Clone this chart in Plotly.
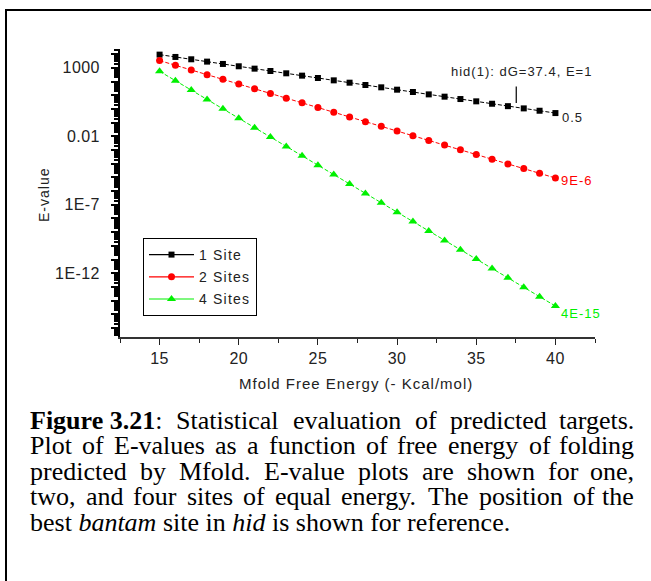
import math
import plotly.graph_objects as go

# ---- data -------------------------------------------------------------
free_energy = list(range(15, 41))  # Mfold free energy (-kcal/mol)

e_one_site = [9300, 6300, 4250, 2870, 1940, 1310, 880, 595, 402, 271,
              183, 123, 83, 56, 38, 25.6, 17.3, 11.6, 7.9, 5.3,
              3.6, 2.4, 1.6, 1.1, 0.74, 0.5]
e_two_sites = [3420, 1550, 705, 320, 145, 66, 30, 13.5, 6.1, 2.8,
               1.26, 0.57, 0.26, 0.118, 0.054, 0.0243, 0.011, 0.0050,
               0.0023, 0.00103, 4.7e-4, 2.1e-4, 9.6e-5, 4.4e-5, 2.0e-5, 9e-6]
e_four_sites = [564, 116, 24, 4.9, 1.02, 0.21, 0.043, 0.0089, 0.0018,
                3.8e-4, 7.8e-5, 1.6e-5, 3.3e-6, 6.8e-7, 1.4e-7, 2.9e-8,
                6.0e-9, 1.2e-9, 2.5e-10, 5.2e-11, 1.1e-11, 2.2e-12,
                4.6e-13, 9.4e-14, 1.9e-14, 4e-15]

series_names = ["1 Site", "2 Sites", "4 Sites"]
end_labels = ["0.5", "9E-6", "4E-15"]

hid_dg = 37.4
hid_e = 1
hid_label = "hid(1): dG=37.4, E=1"

y_tick_labels = {3: "1000", -2: "0.01", -7: "1E-7", -12: "1E-12"}
x_tick_values = [15, 20, 25, 30, 35, 40]

caption_lines = [
    "<b>Figure</b> <b>3.21</b>: Statistical evaluation of predicted targets.",
    "Plot of E-values as a function of free energy of folding",
    "predicted by Mfold. E-value plots are shown for one,",
    "two, and four sites of equal energy. The position of the",
    "best <i>bantam</i> site in <i>hid</i> is shown for reference.",
]

# ---- layout geometry (pixels) ----------------------------------------
W, H = 651, 581
L, R, T, B = 120, 56, 49, 244
PW, PH = W - L - R, H - T - B


def px(x):
    return (x - L) / PW


def py(y):
    return (H - B - y) / PH


SANS = "Liberation Sans"
SERIF = "Liberation Serif"
INK = "#222222"


def spaced(text, amount=1.0):
    return f'<span style="letter-spacing:{amount}px">{text}</span>'


# Times glyph advance widths (1/1000 em) for justified caption layout
_LOWER = [444, 500, 444, 500, 444, 333, 500, 500, 278, 278, 500, 278, 778,
          500, 500, 500, 500, 333, 389, 278, 500, 500, 722, 500, 500, 444]
_UPPER = [722, 667, 667, 722, 611, 556, 722, 722, 333, 389, 722, 611, 889,
          722, 722, 556, 722, 667, 556, 611, 722, 722, 944, 722, 722, 611]
ROMAN = dict(zip("abcdefghijklmnopqrstuvwxyz", _LOWER))
ROMAN.update(zip("ABCDEFGHIJKLMNOPQRSTUVWXYZ", _UPPER))
ROMAN.update({" ": 250, ".": 250, ",": 250, ":": 278, "-": 333})
ROMAN.update({d: 500 for d in "0123456789"})
BOLD = dict(ROMAN)
BOLD.update({"F": 611, "u": 556, "r": 444, "b": 556, "d": 556, "h": 556})


def word_width(token, size):
    total, bold, i = 0, False, 0
    while i < len(token):
        if token.startswith("<b>", i):
            bold, i = True, i + 3
            continue
        if token.startswith("</b>", i):
            bold, i = False, i + 4
            continue
        ch = token[i]
        total += (BOLD if bold else ROMAN).get(ch, 500)
        i += 1
    return total * size / 1000.0


fig = go.Figure()

colors = ["#000000", "#ff0000", "#00f000"]
symbols = ["square", "circle", "triangle-up"]
sizes = [6, 7, 8]
all_series = [e_one_site, e_two_sites, e_four_sites]

for name, vals, col, sym, sz in zip(series_names, all_series, colors, symbols, sizes):
    fig.add_trace(go.Scatter(
        x=free_energy, y=vals, mode="lines+markers", name=name,
        showlegend=False,
        line=dict(color=col, width=1, dash="4px,2px"),
        marker=dict(symbol=sym, size=sz, color=col),
    ))

# legend keys are drawn with solid connecting lines
for name, col, sym, sz in zip(series_names, colors, symbols, sizes):
    fig.add_trace(go.Scatter(
        x=[None], y=[None], mode="lines+markers",
        name=spaced(name, 1.2), legendgroup=name,
        line=dict(color=col, width=1.2),
        marker=dict(symbol=sym, size=sz, color=col),
    ))

annotations = []
shapes = []

# end-of-series value labels
shifts = [(6, -4), (5, -2), (5, -7)]
for vals, text, col, (dx, dy) in zip(all_series, end_labels, colors, shifts):
    annotations.append(dict(
        x=free_energy[-1], y=math.log10(vals[-1]), xref="x", yref="y",
        text=spaced(text, 1.0), showarrow=False, xanchor="left",
        yanchor="middle", xshift=dx, yshift=dy, borderpad=0,
        font=dict(family=SANS, size=13, color=col if col != "#000000" else INK),
    ))

# hid reference marker: label plus a short tick above the 1-site curve
annotations.append(dict(
    x=hid_dg, y=math.log10(hid_e), xref="x", yref="y",
    text=spaced(hid_label, 1.0), showarrow=False, xanchor="center",
    yanchor="middle", xshift=7, yshift=37.5, borderpad=0,
    font=dict(family=SANS, size=13, color=INK),
))
annotations.append(dict(
    x=hid_dg, y=math.log10(hid_e), xref="x", yref="y", xshift=2,
    text="", showarrow=True, arrowhead=0, arrowwidth=1.2, arrowcolor="#000000",
    ax=0, ay=-24, standoff=6,
))

# axis titles
annotations.append(dict(
    x=px(44), y=py(195), xref="paper", yref="paper", text=spaced("E-value", 1.0),
    textangle=-90, showarrow=False, xanchor="center", yanchor="middle",
    font=dict(family=SANS, size=14, color=INK),
))
annotations.append(dict(
    x=px(356), y=py(383), xref="paper", yref="paper",
    text=spaced("Mfold Free Energy (- Kcal/mol)", 1.0),
    showarrow=False, xanchor="center", yanchor="middle",
    font=dict(family=SANS, size=15, color=INK),
))

# justified caption
CAP_SIZE = 26
CAP_LEFT, CAP_RIGHT = 29, 635
cap_centers = [420, 445.5, 471, 496.5, 522]
for idx, (line, cy) in enumerate(zip(caption_lines, cap_centers)):
    last = idx == len(caption_lines) - 1
    if last:
        annotations.append(dict(
            x=px(CAP_LEFT), y=py(cy), xref="paper", yref="paper", text=line,
            showarrow=False, xanchor="left", yanchor="middle", borderpad=0,
            font=dict(family=SERIF, size=CAP_SIZE, color="#000000"),
        ))
        continue
    words = line.replace("</b> <b>", "</b>\x00<b>").split(" ")
    words = [w.replace("\x00", " ") for w in words]
    widths = [word_width(w, CAP_SIZE) for w in words]
    gap = (CAP_RIGHT - CAP_LEFT - sum(widths)) / (len(words) - 1)
    xpos = CAP_LEFT
    for j, (w, wd) in enumerate(zip(words, widths)):
        is_end = j == len(words) - 1
        annotations.append(dict(
            x=px(CAP_RIGHT if is_end else xpos), y=py(cy), xref="paper", yref="paper",
            text=w, showarrow=False, xanchor="right" if is_end else "left",
            yanchor="middle", borderpad=0,
            font=dict(family=SERIF, size=CAP_SIZE, color="#000000"),
        ))
        xpos += wd + gap

# page frame
shapes.append(dict(
    type="rect", xref="paper", yref="paper",
    x0=px(6), x1=px(670), y0=py(600), y1=py(10),
    line=dict(color="#000000", width=2), fillcolor="rgba(0,0,0,0)", layer="below",
))

# log-axis ticks: a major tick per decade, minor ticks at 2..9
decades = list(range(-16, 5))
y_tickvals = [10.0 ** d for d in decades]
y_ticktext = [spaced(y_tick_labels[d], 0.4) if d in y_tick_labels else "" for d in decades]
y_minor = [m * 10.0 ** d for d in range(-17, 5) for m in range(2, 10)]

fig.update_layout(
    width=W, height=H,
    margin=dict(l=L, r=R, t=T, b=B, pad=0),
    paper_bgcolor="white", plot_bgcolor="white",
    showlegend=True,
    legend=dict(
        x=px(143), y=py(238), xanchor="left", yanchor="top",
        bordercolor="#000000", borderwidth=1, bgcolor="white",
        font=dict(family=SANS, size=14, color=INK),
        itemwidth=45, tracegroupgap=1,
    ),
    annotations=annotations,
    shapes=shapes,
    xaxis=dict(
        range=[12.5, 42.5], tickvals=x_tick_values,
        ticktext=[spaced(str(v), 0.4) for v in x_tick_values],
        ticks="outside", ticklen=6, tickwidth=1.2, tickcolor=INK,
        showline=True, linewidth=2, linecolor="#333333",
        showgrid=False, zeroline=False,
        tickfont=dict(family=SANS, size=16, color=INK),
        minor=dict(dtick=2.5, tick0=12.5, ticks="outside", ticklen=4,
                   tickwidth=1.2, tickcolor=INK, showgrid=False),
    ),
    yaxis=dict(
        type="log", range=[-16.66, 4.38],
        tickmode="array", tickvals=y_tickvals, ticktext=y_ticktext,
        ticks="outside", ticklen=7, tickwidth=2, tickcolor="#000000",
        ticklabelstandoff=8,
        showline=True, linewidth=2, linecolor="#000000",
        showgrid=False, zeroline=False,
        tickfont=dict(family=SANS, size=16, color=INK),
        minor=dict(tickmode="array", tickvals=y_minor, ticks="outside",
                   ticklen=4, tickwidth=1.5, tickcolor="#000000", showgrid=False),
    ),
)

fig.write_html("out.html")
